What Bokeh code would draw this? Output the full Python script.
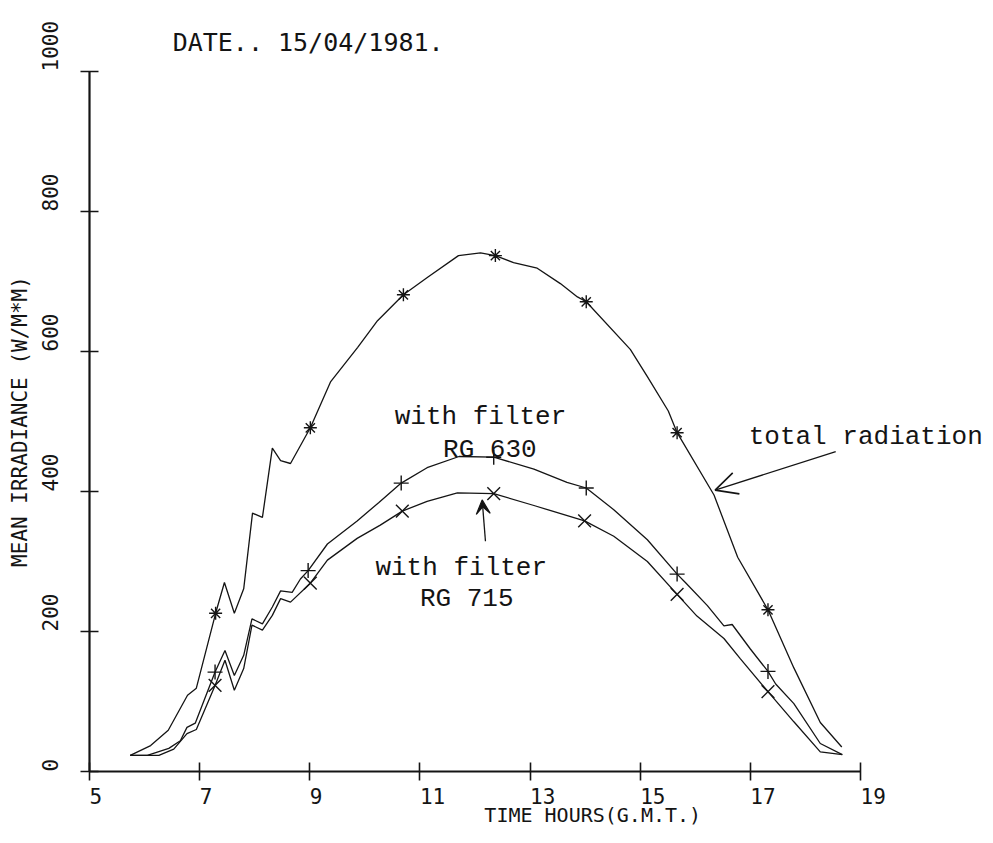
from bokeh.plotting import figure
from bokeh.models import Range1d, FixedTicker, Label, Arrow, OpenHead, VeeHead
from bokeh.embed import file_html
from bokeh.resources import INLINE

# ---------------- data ----------------
x_ticks = [5, 7, 9, 11, 13, 15, 17, 19]
y_ticks = [0, 200, 400, 600, 800, 1000]

total_hours = [5.74, 6.11, 6.43, 6.78, 6.94, 7.29, 7.45, 7.63, 7.80, 7.96, 8.14, 8.32,
               8.47, 8.65, 9.01, 9.38, 9.87, 10.23, 10.70, 11.14, 11.70, 12.10, 12.37,
               12.70, 13.13, 13.55, 13.86, 14.02, 14.82, 15.13, 15.51, 15.67, 16.34,
               16.77, 17.32, 17.79, 18.27, 18.66]
total_values = [23, 37, 59, 109, 119, 226, 270, 226, 261, 369, 363, 462,
                444, 440, 491, 557, 606, 644, 681, 706, 737, 741, 737,
                727, 719, 697, 678, 671, 603, 564, 515, 484, 395,
                306, 231, 148, 70, 35]

rg630_hours = [5.74, 6.05, 6.44, 6.65, 6.77, 6.92, 7.28, 7.46, 7.63, 7.80, 7.95, 8.14,
               8.32, 8.47, 8.68, 8.83, 8.97, 9.32, 9.86, 10.25, 10.66, 11.13, 11.71,
               12.34, 13.07, 13.67, 14.02, 14.52, 15.13, 15.67, 15.82, 16.22, 16.52,
               16.67, 17.00, 17.32, 17.46, 17.79, 18.27, 18.67]
rg630_values = [23, 23, 33, 44, 63, 69, 142, 173, 137, 166, 218, 211,
                235, 258, 256, 275, 287, 325, 358, 384, 412, 434, 450,
                449, 432, 413, 405, 374, 331, 282, 270, 237, 208,
                210, 175, 143, 125, 97, 40, 24]

rg715_hours = [5.74, 6.26, 6.53, 6.77, 6.94, 7.28, 7.46, 7.63, 7.80, 7.95, 8.14, 8.32,
               8.47, 8.65, 9.01, 9.32, 9.86, 10.28, 10.68, 11.13, 11.68, 12.34, 13.07,
               13.99, 14.52, 15.13, 15.67, 16.03, 16.52, 16.82, 17.32, 17.79, 18.27,
               18.67]
rg715_values = [23, 23, 32, 54, 60, 123, 159, 116, 147, 209, 202, 223,
                247, 242, 269, 302, 333, 352, 372, 386, 398, 397, 380,
                358, 336, 300, 253, 222, 190, 161, 114, 71, 28,
                24]

total_mark_hours = [7.29, 9.01, 10.70, 12.37, 14.02, 15.67, 17.32]
total_mark_values = [226, 491, 681, 737, 671, 484, 231]
rg630_mark_hours = [7.28, 8.97, 10.66, 12.34, 14.02, 15.67, 17.32]
rg630_mark_values = [142, 287, 412, 449, 405, 282, 143]
rg715_mark_hours = [7.28, 9.01, 10.68, 12.34, 13.99, 15.67, 17.32]
rg715_mark_values = [123, 269, 372, 397, 358, 253, 114]

date_text = "DATE.. 15/04/1981."
x_title = "TIME HOURS(G.M.T.)"
y_title = "MEAN IRRADIANCE (W/M*M)"

# ---------------- layout ----------------
W, H = 993, 843
AX_LEFT_PX, AX_RIGHT_PX = 89, 860      # where hours 5 and 19 sit
AX_BOTTOM_PX, AX_TOP_PX = 771, 71      # where 0 and 1000 sit
X0, X1 = x_ticks[0], x_ticks[-1]
Y0, Y1 = y_ticks[0], y_ticks[-1]
kx = (X1 - X0) / (AX_RIGHT_PX - AX_LEFT_PX)
ky = (Y1 - Y0) / (AX_BOTTOM_PX - AX_TOP_PX)
x_range = Range1d(X0 - AX_LEFT_PX * kx, X1 + (W - AX_RIGHT_PX) * kx)
y_range = Range1d(Y0 - (H - AX_BOTTOM_PX) * ky, Y1 + AX_TOP_PX * ky)

INK = "#141414"
PLOT_FONT = "DejaVu Sans Mono"
TYPE_FONT = "Liberation Mono"
NBSP = "\u00a0"


def plotter_label(v):
    # the plotter writes each tick label starting at its tick, so pad the
    # centred label on the leading side by as many blanks as it has characters
    s = str(v)
    return NBSP * len(s) + s


p = figure(width=W, height=H, output_backend="svg", toolbar_location=None,
           title=None, x_range=x_range, y_range=y_range,
           min_border_left=0, min_border_right=0, min_border_top=0,
           min_border_bottom=0, background_fill_color="white",
           border_fill_color="white")
p.outline_line_color = None
p.xgrid.visible = False
p.ygrid.visible = False

for ax in (p.xaxis[0], p.yaxis[0]):
    ax.axis_line_color = INK
    ax.axis_line_width = 2.2
    ax.major_tick_line_color = INK
    ax.major_tick_line_width = 1.6
    ax.major_tick_in = 9
    ax.major_tick_out = 9
    ax.minor_tick_line_color = None
    ax.major_label_text_font = PLOT_FONT
    ax.major_label_text_font_size = "21px"
    ax.major_label_text_color = INK

p.xaxis.ticker = FixedTicker(ticks=x_ticks)
p.xaxis.major_label_overrides = {t: plotter_label(t) for t in x_ticks}
p.xaxis.bounds = (X0, X1)
p.xaxis.fixed_location = Y0
p.xaxis.major_label_standoff = 4

p.yaxis.ticker = FixedTicker(ticks=y_ticks)
p.yaxis.major_label_overrides = {t: plotter_label(t) for t in y_ticks}
p.yaxis.bounds = (Y0, Y1)
p.yaxis.fixed_location = X0
p.yaxis.major_label_orientation = "vertical"
p.yaxis.major_label_standoff = 18
p.yaxis.axis_label = y_title
p.yaxis.axis_label_text_font = PLOT_FONT
p.yaxis.axis_label_text_font_size = "21px"
p.yaxis.axis_label_text_font_style = "normal"
p.yaxis.axis_label_text_color = INK
p.yaxis.axis_label_standoff = 4

# ---------------- curves ----------------
p.line(total_hours, total_values, line_color=INK, line_width=1.3)
p.line(rg630_hours, rg630_values, line_color=INK, line_width=1.3)
p.line(rg715_hours, rg715_values, line_color=INK, line_width=1.3)

p.scatter(total_mark_hours, total_mark_values, marker="asterisk", size=13,
          line_color=INK, line_width=1.4)
p.scatter(rg630_mark_hours, rg630_mark_values, marker="cross", size=15,
          line_color=INK, line_width=1.4)
p.scatter(rg715_mark_hours, rg715_mark_values, marker="x", size=18,
          line_color=INK, line_width=1.4)

# ---------------- texts ----------------
p.add_layout(Label(x=6.51, y=1041, text=date_text, text_font=PLOT_FONT,
                   text_font_size="25px", text_color=INK,
                   text_align="left", text_baseline="middle"))
p.add_layout(Label(x=12.17, y=-62, text=x_title, text_font=PLOT_FONT,
                   text_font_size="20px", text_color=INK,
                   text_align="left", text_baseline="middle"))

p.add_layout(Label(x=12.10, y=506, text="with filter", text_font=TYPE_FONT,
                   text_font_size="26px", text_color=INK,
                   text_align="center", text_baseline="alphabetic"))
p.add_layout(Label(x=12.27, y=459, text="RG 630", text_font=TYPE_FONT,
                   text_font_size="26px", text_color=INK,
                   text_align="center", text_baseline="alphabetic"))
p.add_layout(Label(x=11.75, y=291, text="with filter", text_font=TYPE_FONT,
                   text_font_size="26px", text_color=INK,
                   text_align="center", text_baseline="alphabetic"))
p.add_layout(Label(x=11.85, y=247, text="RG 715", text_font=TYPE_FONT,
                   text_font_size="26px", text_color=INK,
                   text_align="center", text_baseline="alphabetic"))
p.add_layout(Label(x=16.97, y=478, text="total radiation", text_font=TYPE_FONT,
                   text_font_size="26px", text_color=INK,
                   text_align="left", text_baseline="alphabetic"))

# arrows
p.add_layout(Arrow(x_start=18.55, y_start=457, x_end=16.36, y_end=402,
                   line_color=INK, line_width=1.3,
                   end=OpenHead(size=22, line_color=INK, line_width=1.6)))
p.add_layout(Arrow(x_start=12.19, y_start=329, x_end=12.13, y_end=388,
                   line_color=INK, line_width=1.3,
                   end=VeeHead(size=14, fill_color=INK, line_color=INK,
                               line_width=1.2)))

open("out.html", "w").write(file_html(p, INLINE))
